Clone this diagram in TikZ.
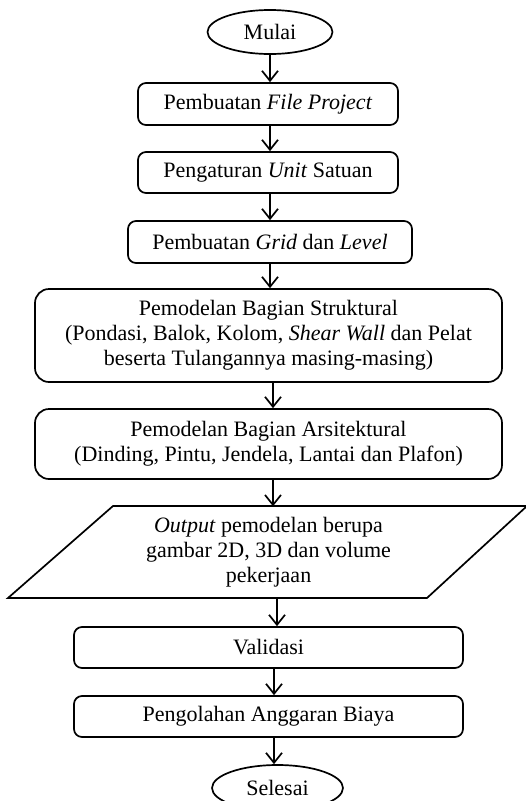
\documentclass[tikz,border=0pt]{standalone}
\usepackage{fontspec}
\setmainfont{Liberation Serif}
\usetikzlibrary{shapes.geometric,arrows.meta}
\begin{document}
\begin{tikzpicture}[x=1pt,y=-1pt,
  every node/.style={font=\fontsize{22}{25}\selectfont, inner sep=0pt, align=center},
  proc/.style={draw, line width=1.7pt, rounded corners=8pt, rectangle},
  bigproc/.style={proc, rounded corners=14pt},
  term/.style={draw, line width=1.7pt, ellipse},
  arr/.style={line width=1.7pt, -{Straight Barb[length=10pt,width=16pt,line width=1.7pt]}}]
\useasboundingbox (0,0) rectangle (526,801);
\clip (0,0) rectangle (526,801);
\fill[white] (0,0) rectangle (526,801);

\node[term, minimum width=125pt, minimum height=44pt] (mulai) at (270,32) {Mulai};
\node[proc, minimum width=260pt, minimum height=42pt] (b1) at (268,104) {Pembuatan \textit{File Project}};
\node[proc, minimum width=260pt, minimum height=41pt] (b2) at (268,172.5) {Pengaturan \textit{Unit} Satuan};
\node[proc, minimum width=284pt, minimum height=42pt] (b3) at (270,242) {Pembuatan \textit{Grid} dan \textit{Level}};
\node[bigproc, minimum width=467pt, minimum height=93pt] (b4) at (268.5,335.5)
  {Pemodelan Bagian Struktural\\(Pondasi, Balok, Kolom, \textit{Shear Wall} dan Pelat\\beserta Tulangannya masing-masing)};
\node[bigproc, minimum width=467pt, minimum height=70pt] (b5) at (268.5,444)
  {Pemodelan Bagian Arsitektural\\(Dinding, Pintu, Jendela, Lantai dan Plafon)};
\node[minimum width=300pt, minimum height=92pt] (out) at (268.5,552.5)
  {\textit{Output} pemodelan berupa\\gambar 2D, 3D dan volume\\pekerjaan};
\draw[line width=1.7pt, line join=miter] (113,506) -- (527,506) -- (427,598) -- (8,598) -- cycle;
\node[proc, minimum width=389pt, minimum height=41pt] (val) at (268.5,647.5) {Validasi};
\node[proc, minimum width=389pt, minimum height=41pt] (peng) at (268.5,716.5) {Pengolahan Anggaran Biaya};
\node[term, minimum width=131pt, minimum height=46pt] (sel) at (277.5,788) {Selesai};

\draw[arr] (mulai.south) -- (mulai.south |- b1.north);
\draw[arr] ([xshift=2pt]b1.south) -- ([xshift=2pt]b1.south |- b2.north);
\draw[arr] ([xshift=2pt]b2.south) -- ([xshift=2pt]b2.south |- b3.north);
\draw[arr] (b3.south) -- (b3.south |- b4.north);
\draw[arr] ([xshift=4.5pt]b4.south) -- ([xshift=4.5pt]b4.south |- b5.north);
\draw[arr] ([xshift=4.5pt]b5.south) -- ([xshift=4.5pt]b5.south |- out.north);
\draw[arr] ([xshift=8.5pt]out.south) -- ([xshift=8.5pt]out.south |- val.north);
\draw[arr] ([xshift=5.5pt]val.south) -- ([xshift=5.5pt]val.south |- peng.north);
\draw[arr] ([xshift=5.5pt]peng.south) -- ([xshift=5.5pt]peng.south |- sel.north);
\end{tikzpicture}
\end{document}
